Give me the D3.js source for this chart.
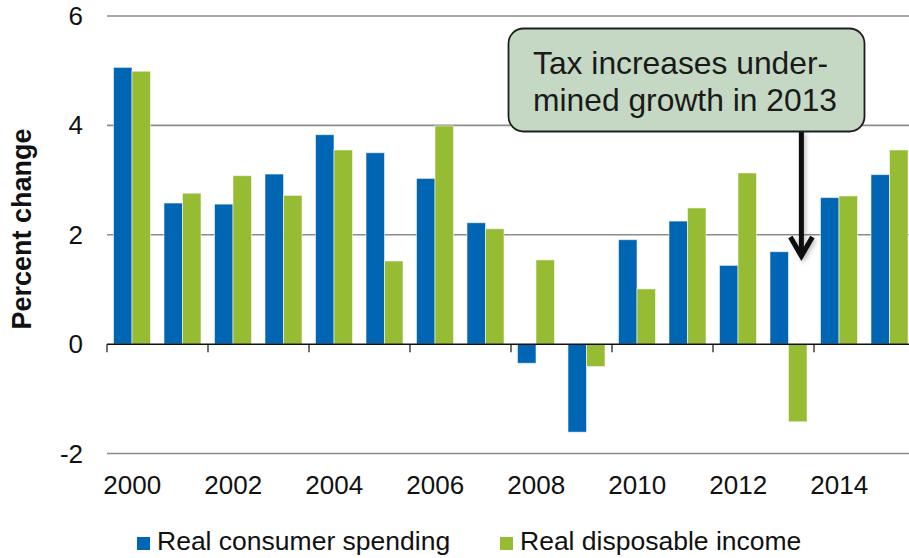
<!DOCTYPE html>
<html>
<head>
<meta charset="utf-8">
<script src="https://cdn.jsdelivr.net/npm/d3@7"></script>
<style>
  html, body { margin: 0; padding: 0; background: #fff; }
  svg { display: block; font-family: "Liberation Sans", Arial, sans-serif; }
</style>
</head>
<body>
<svg id="chart" width="909" height="558"></svg>
<script>
// Annual growth, percent change
const years = ["2000","2001","2002","2003","2004","2005","2006","2007",
               "2008","2009","2010","2011","2012","2013","2014","2015"];
const consumerSpending = [5.06, 2.58, 2.56, 3.11, 3.83, 3.50, 3.03, 2.22,
                          -0.35, -1.61, 1.91, 2.25, 1.44, 1.69, 2.68, 3.10];
const disposableIncome = [4.99, 2.76, 3.08, 2.72, 3.55, 1.52, 3.99, 2.11,
                          1.54, -0.41, 1.01, 2.49, 3.13, -1.42, 2.71, 3.55];
const yTicks = [-2, 0, 2, 4, 6];
const xTickLabels = ["2000","2002","2004","2006","2008","2010","2012","2014"];
const seriesNames = ["Real consumer spending", "Real disposable income"];
const calloutLines = ["Tax increases under-", "mined growth in 2013"];
const calloutYear = "2013";

const colors = ["#0066b3", "#96bc33"];
const svg = d3.select("#chart");

const x = d3.scaleBand().domain(years).range([107, 915]).paddingInner(0).paddingOuter(0);
const x1 = d3.scaleBand().domain([0, 1]).range([6.5, x.bandwidth() - 7]);
const y = d3.scaleLinear().domain([-2, 6]).range([453.5, 16]);

// horizontal gridlines
svg.append("g").selectAll("line")
  .data(yTicks.filter(d => d !== 0))
  .join("line")
  .attr("x1", 107).attr("x2", 909)
  .attr("y1", d => y(d)).attr("y2", d => y(d))
  .attr("stroke", "#8c8c8c").attr("stroke-width", 1.6);

// y tick labels
svg.append("g").selectAll("text")
  .data(yTicks)
  .join("text")
  .attr("x", 83).attr("y", d => y(d))
  .attr("dy", "0.35em")
  .attr("text-anchor", "end")
  .attr("font-size", 26)
  .attr("fill", "#111")
  .text(d => d);

// y axis title
svg.append("text")
  .attr("transform", "translate(31,229) rotate(-90)")
  .attr("text-anchor", "middle")
  .attr("font-size", 27)
  .attr("font-weight", "bold")
  .attr("fill", "#111")
  .text("Percent change");

// bars
const groups = svg.append("g").selectAll("g")
  .data(years.map((yr, i) => ({ yr, vals: [consumerSpending[i], disposableIncome[i]] })))
  .join("g")
  .attr("transform", d => `translate(${x(d.yr)},0)`);

groups.selectAll("rect")
  .data(d => d.vals.map((v, k) => ({ v, k })))
  .join("rect")
  .attr("x", d => x1(d.k))
  .attr("width", x1.bandwidth())
  .attr("y", d => y(Math.max(0, d.v)))
  .attr("height", d => Math.abs(y(d.v) - y(0)))
  .attr("fill", d => colors[d.k])
  .attr("stroke", "rgba(255,255,255,0.55)")
  .attr("stroke-width", 1);

// zero axis with category ticks every two years
const xAxis = d3.axisBottom(x)
  .tickValues(xTickLabels)
  .tickSize(0)
  .tickFormat(d => d);
const axisG = svg.append("g")
  .attr("transform", `translate(0,${y(0)})`)
  .call(xAxis);
axisG.select(".domain").remove();
axisG.selectAll("text")
  .attr("y", 0)
  .attr("dy", 0)
  .attr("transform", `translate(0,${494 - y(0)})`)
  .attr("font-size", 26)
  .attr("font-family", "Liberation Sans, Arial, sans-serif")
  .attr("fill", "#111");

svg.append("line")
  .attr("x1", 107).attr("x2", 909)
  .attr("y1", y(0)).attr("y2", y(0))
  .attr("stroke", "#111").attr("stroke-width", 1.5);

svg.append("g").selectAll("line")
  .data(xTickLabels)
  .join("line")
  .attr("x1", d => x(d)).attr("x2", d => x(d))
  .attr("y1", y(0)).attr("y2", y(0) + 8)
  .attr("stroke", "#111").attr("stroke-width", 1.2);

// callout box and arrow pointing into the 2013 group
const arrowX = x(calloutYear) + x.bandwidth() * 0.75;
const defs = svg.append("defs");
const f = defs.append("filter").attr("id", "soft").attr("x", "-50%").attr("y", "-10%").attr("width", "200%").attr("height", "130%");
f.append("feDropShadow").attr("dx", 2).attr("dy", 2).attr("stdDeviation", 2).attr("flood-color", "#000").attr("flood-opacity", 0.25);

const arrowG = svg.append("g").attr("filter", "url(#soft)");
arrowG.append("line")
  .attr("x1", arrowX).attr("x2", arrowX)
  .attr("y1", 131).attr("y2", 255)
  .attr("stroke", "#111").attr("stroke-width", 5);
arrowG.append("path")
  .attr("d", `M${arrowX - 11},${237} L${arrowX},${256} L${arrowX + 11},${237}`)
  .attr("fill", "none")
  .attr("stroke", "#111").attr("stroke-width", 5)
  .attr("stroke-linejoin", "miter");

svg.append("rect")
  .attr("x", 508.5).attr("y", 28.5)
  .attr("width", 356).attr("height", 103)
  .attr("rx", 15).attr("ry", 15)
  .attr("fill", "#c4d8c3")
  .attr("stroke", "#1e1e1e").attr("stroke-width", 1.8);

svg.append("g").selectAll("text")
  .data(calloutLines)
  .join("text")
  .attr("x", 533)
  .attr("y", (d, i) => 74 + i * 37)
  .attr("font-size", 31.8)
  .attr("fill", "#1a1a1a")
  .text(d => d);

// legend
const legendX = [137, 500];
const legend = svg.append("g").selectAll("g")
  .data(seriesNames)
  .join("g")
  .attr("transform", (d, i) => `translate(${legendX[i]},537)`);
legend.append("rect")
  .attr("width", 13).attr("height", 13)
  .attr("fill", (d, i) => colors[i]);
legend.append("text")
  .attr("x", 20).attr("y", 13)
  .attr("font-size", 26.5)
  .attr("fill", "#111")
  .text(d => d);
</script>
</body>
</html>
